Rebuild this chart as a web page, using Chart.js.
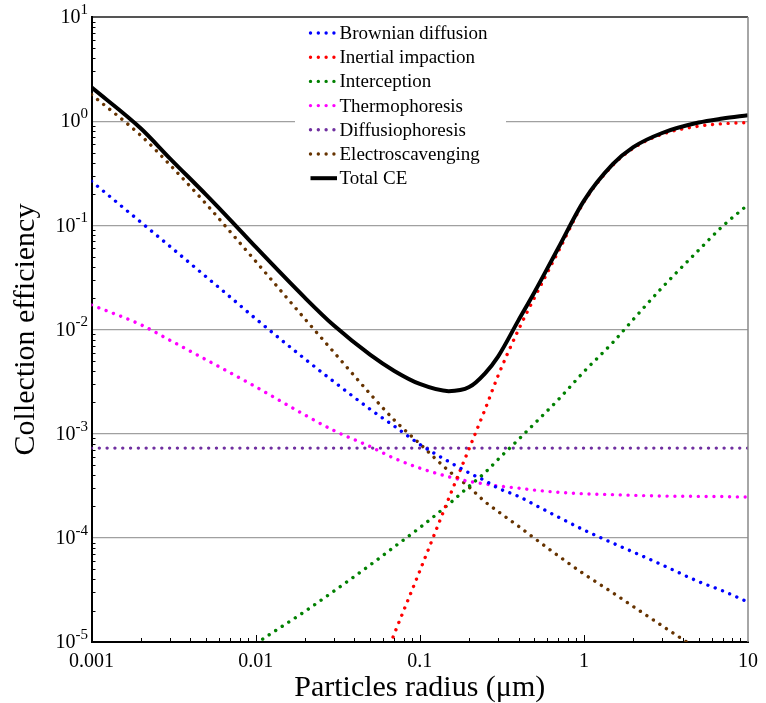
<!DOCTYPE html>
<html>
<head>
<meta charset="utf-8">
<script src="https://cdn.jsdelivr.net/npm/chart.js@4"></script>
<style>
  html, body { margin: 0; padding: 0; background: #fff; }
</style>
</head>
<body>
<canvas id="myChart" width="766" height="703"></canvas>
<script>
// collection efficiency vs particle radius

var radius = [0.001, 0.002, 0.003, 0.005, 0.007, 0.01, 0.02, 0.03, 0.05, 0.07, 0.1, 0.15, 0.2, 0.25, 0.3, 0.4, 0.5, 0.7, 1, 1.5, 2, 3, 5, 7, 10];

var brownian = [0.265, 0.107, 0.063, 0.032, 0.0205, 0.0127, 0.0052, 0.00315, 0.00171, 0.00118, 7.9e-4, 5.4e-4, 4.2e-4, 3.53e-4, 3.0e-4, 2.5e-4, 2.08e-4, 1.58e-4, 1.19e-4, 8.9e-5, 7.3e-5, 5.5e-5, 3.8e-5, 3.1e-5, 2.42e-5];
var inertial = [null, null, null, null, null, 5e-9, 8e-8, 4e-7, 3.1e-6, 1.2e-5, 4.8e-5, 2.38e-4, 7.2e-4, 1.71e-3, 3.6e-3, 0.0100, 0.0202, 0.0564, 0.167, 0.378, 0.55, 0.75, 0.895, 0.946, 0.97];
var interception = [7e-7, 1.5e-6, 2.4e-6, 4.4e-6, 6.4e-6, 9.6e-6, 1.97e-5, 3.08e-5, 5.5e-5, 8.2e-5, 1.25e-4, 2.1e-4, 3.13e-4, 4.23e-4, 5.66e-4, 8.8e-4, 1.25e-3, 2.13e-3, 3.93e-3, 7.5e-3, 0.0125, 0.0253, 0.0577, 0.098, 0.158];
var thermo = [0.0172, 0.0111, 0.0079, 0.00512, 0.00384, 0.00282, 0.00151, 0.00107, 7.5e-4, 5.8e-4, 4.67e-4, 3.86e-4, 3.48e-4, 3.29e-4, 3.15e-4, 3.0e-4, 2.87e-4, 2.74e-4, 2.65e-4, 2.6e-4, 2.56e-4, 2.52e-4, 2.5e-4, 2.49e-4, 2.46e-4];
var diffusio = [7.27e-4, 7.27e-4, 7.27e-4, 7.27e-4, 7.27e-4, 7.27e-4, 7.27e-4, 7.27e-4, 7.27e-4, 7.27e-4, 7.27e-4, 7.27e-4, 7.27e-4, 7.27e-4, 7.27e-4, 7.27e-4, 7.27e-4, 7.27e-4, 7.27e-4, 7.27e-4, 7.27e-4, 7.27e-4, 7.27e-4, 7.27e-4, 7.27e-4];
var electro = [1.8, 0.727, 0.382, 0.16, 0.0868, 0.0452, 0.0126, 0.00604, 0.0024, 0.00135, 8.0e-4, 4.4e-4, 3.07e-4, 2.22e-4, 1.79e-4, 1.29e-4, 9.9e-5, 6.7e-5, 4.5e-5, 2.97e-5, 2.19e-5, 1.43e-5, 8.4e-6, 5.9e-6, 4.1e-6];
var totalCE = [2.11, 0.85, 0.44, 0.196, 0.113, 0.062, 0.0201, 0.0109, 0.0057, 0.0040, 0.0030, 0.00256, 0.0028, 0.0038, 0.0055, 0.0123, 0.0228, 0.061, 0.172, 0.386, 0.563, 0.77, 0.97, 1.06, 1.14];

var xTicks = [0.001, 0.01, 0.1, 1, 10];
var yTicks = [1e-5, 1e-4, 1e-3, 1e-2, 1e-1, 1, 10];

var serif = '"Liberation Serif", "Times New Roman", serif';

function pts(arr) {
    return radius.map(function (r, i) { return { x: r, y: arr[i] }; });
}

function dotted(label, values, color) {
    return {
        label: label,
        data: pts(values),
        borderColor: color,
        backgroundColor: color,
        borderWidth: 3.4,
        borderDash: [0.01, 7.8],
        borderCapStyle: 'round',
        pointRadius: 0,
        cubicInterpolationMode: 'monotone',
        fill: false
    };
}

var datasets = [
    dotted('Brownian diffusion', brownian, '#0000ff'),
    dotted('Inertial impaction', inertial, '#ff0000'),
    dotted('Interception', interception, '#008000'),
    dotted('Thermophoresis', thermo, '#ff00ff'),
    dotted('Diffusiophoresis', diffusio, '#7030a0'),
    dotted('Electroscavenging', electro, '#663300'),
    {
        label: 'Total CE',
        data: pts(totalCE),
        borderColor: '#000',
        backgroundColor: '#000',
        borderWidth: 4,
        pointRadius: 0,
        cubicInterpolationMode: 'monotone',
        fill: false,
        order: -1
    }
];

// frame on right, small inward ticks, 10^n labels with raised exponent
var frameTicks = {
    id: 'frameTicks',
    afterDraw: function (chart) {
        var ctx = chart.ctx, a = chart.chartArea;
        var xs = chart.scales.x, ys = chart.scales.y;
        ctx.save();
        ctx.strokeStyle = '#888';
        ctx.lineWidth = 1.5;
        ctx.beginPath();
        ctx.moveTo(a.right, a.top);
        ctx.lineTo(a.right, a.bottom);
        ctx.stroke();

        ctx.strokeStyle = '#000';
        ctx.lineWidth = 1;
        ctx.beginPath();
        for (var d = -5; d < 1; d++) {
            for (var k = 2; k < 10; k++) {
                var y = Math.round(ys.getPixelForValue(k * Math.pow(10, d))) + 0.5;
                ctx.moveTo(a.left, y);
                ctx.lineTo(a.left + 4, y);
            }
        }
        for (var e = -3; e < 1; e++) {
            for (var j = 1; j < 10; j++) {
                var x = Math.round(xs.getPixelForValue(j * Math.pow(10, e))) + 0.5;
                ctx.moveTo(x, a.bottom);
                ctx.lineTo(x, a.bottom - (j === 1 ? 7 : 4));
            }
        }
        ctx.stroke();

        ctx.fillStyle = '#000';
        ctx.textBaseline = 'middle';
        ctx.textAlign = 'right';
        yTicks.forEach(function (v) {
            var py = ys.getPixelForValue(v);
            var ex = String(Math.round(Math.log10(v)));
            var right = a.left - 3.5;
            ctx.font = '15px ' + serif;
            var w = ctx.measureText(ex).width;
            ctx.fillText(ex, right, py - 7);
            ctx.font = '20px ' + serif;
            ctx.fillText('10', right - w, py + 1);
        });
        ctx.restore();
    }
};

// legend inside the plot, one column
var insideLegend = {
    id: 'insideLegend',
    afterDraw: function (chart) {
        var ctx = chart.ctx, a = chart.chartArea;
        var x0 = a.left + 218.5, y0 = a.top + 16;
        ctx.save();
        ctx.fillStyle = '#fff';
        ctx.fillRect(x0 - 15, a.top + 2, 211, 170);
        ctx.font = '19px ' + serif;
        ctx.textBaseline = 'middle';
        chart.data.datasets.forEach(function (ds, i) {
            var y = y0 + i * 24.2;
            ctx.beginPath();
            ctx.strokeStyle = ds.borderColor;
            ctx.lineWidth = ds.borderWidth;
            ctx.lineCap = ds.borderDash ? 'round' : 'butt';
            ctx.setLineDash(ds.borderDash || []);
            ctx.moveTo(x0 + 0.5, y);
            ctx.lineTo(x0 + (ds.borderDash ? 25 : 27), y);
            ctx.stroke();
            ctx.setLineDash([]);
            ctx.fillStyle = '#000';
            ctx.fillText(ds.label, x0 + 29.5, y + 1);
        });
        ctx.restore();
    }
};

var config = {
    type: 'line',
    data: { datasets: datasets },
    options: {
        responsive: false,
        animation: false,
        layout: { padding: { top: 17, right: 16, left: 0, bottom: 0 } },
        plugins: {
            legend: { display: false },
            tooltip: { enabled: false }
        },
        scales: {
            x: {
                type: 'logarithmic',
                min: 0.001,
                max: 10,
                afterBuildTicks: function (scale) {
                    scale.ticks = xTicks.map(function (v) { return { value: v }; });
                },
                afterFit: function (scale) { scale.height = 61; },
                grid: { display: false, drawTicks: false },
                border: { display: true, color: '#000', width: 2 },
                ticks: {
                    font: { family: serif, size: 20 },
                    color: '#000',
                    padding: 8,
                    maxRotation: 0,
                    autoSkip: false,
                    callback: function (v) { return String(v); }
                },
                title: {
                    display: true,
                    text: 'Particles radius (\u03BCm)',
                    color: '#000',
                    font: { family: serif, size: 30, lineHeight: 1 },
                    padding: { top: 0, bottom: 0 }
                }
            },
            y: {
                type: 'logarithmic',
                min: 1e-5,
                max: 10,
                afterBuildTicks: function (scale) {
                    scale.ticks = yTicks.map(function (v) { return { value: v }; });
                },
                afterFit: function (scale) { scale.width = 91.5; },
                grid: {
                    drawTicks: false,
                    color: function (c) { return c.tick && c.tick.value === 10 ? '#555' : '#a0a0a0'; },
                    lineWidth: function (c) { return c.tick && c.tick.value === 10 ? 2 : 1.2; }
                },
                border: { display: true, color: '#000', width: 2 },
                ticks: { display: false },
                title: {
                    display: true,
                    text: 'Collection efficiency',
                    color: '#000',
                    font: { family: serif, size: 30, lineHeight: 1 },
                    padding: { top: 11, bottom: 0 }
                }
            }
        }
    },
    plugins: [frameTicks, insideLegend]
};

var myChart = new Chart(document.getElementById('myChart'), config);
</script>
</body>
</html>
